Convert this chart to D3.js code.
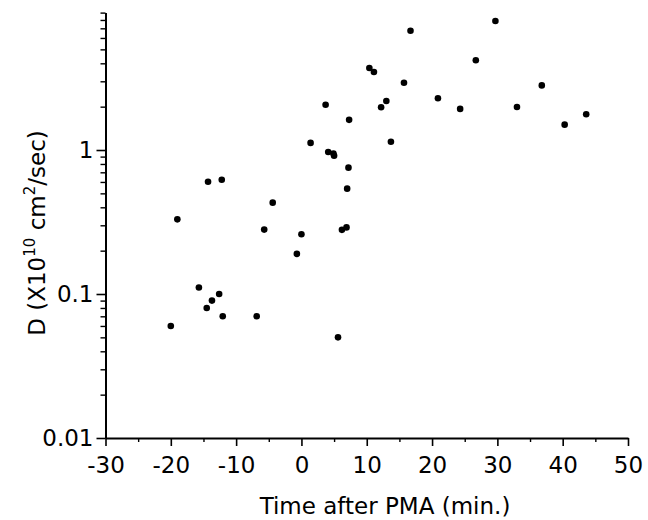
<!DOCTYPE html>
<html>
<head>
<meta charset="utf-8">
<script src="https://cdn.jsdelivr.net/npm/d3@7"></script>
<style>
  html, body { margin: 0; padding: 0; background: #fff; }
  svg { display: block; }
  text { font-family: "DejaVu Sans", "Liberation Sans", sans-serif; fill: #000; }
</style>
</head>
<body>
<svg id="chart" width="648" height="520"></svg>
<script>
// ---- data ----
const timeMin = [-20, -19, -15.7, -14.5, -14.3, -13.7, -12.6, -12.2, -12.05, -6.85,
                 -5.7, -4.4, -0.7, 0.0, 1.4, 3.7, 4.1, 4.9, 5.0, 5.6,
                 6.2, 6.9, 7.0, 7.2, 7.3, 10.4, 11.1, 12.2, 13.0, 13.7,
                 15.7, 16.7, 20.9, 24.3, 26.7, 29.7, 33.0, 36.8, 40.3, 43.6];
const diffD   = [0.060, 0.330, 0.111, 0.080, 0.602, 0.090, 0.100, 0.622, 0.070, 0.070,
                 0.280, 0.431, 0.190, 0.260, 1.12, 2.06, 0.968, 0.946, 0.913, 0.050,
                 0.279, 0.290, 0.539, 0.754, 1.62, 3.71, 3.48, 1.98, 2.19, 1.14,
                 2.93, 6.74, 2.29, 1.93, 4.20, 7.87, 1.99, 2.81, 1.50, 1.77];
const xMajorTicks = [-30, -20, -10, 0, 10, 20, 30, 40, 50];
const xMinorTicks = [-25, -15, -5, 5, 15, 25, 35, 45];
const yMajorTicks = [0.01, 0.1, 1];
const yMajorLabels = ["0.01", "0.1", "1"];
const yMinorMultipliers = [2, 3, 4, 5, 6, 7, 8, 9];
const xDomain = [-30, 50];
const yDomain = [0.01, 9];
const xTitle = "Time after PMA (min.)";

// ---- scales ----
const svg = d3.select("#chart");
const x = d3.scaleLinear().domain(xDomain).range([105.5, 628]);
const y = d3.scaleLog().domain(yDomain).range([438, 12.6]);

const yMinorTicks = [];
yMajorTicks.forEach(d => yMinorMultipliers.forEach(m => {
  const v = d * m;
  if (v <= yDomain[1] + 1e-9) yMinorTicks.push(v);
}));

// ---- axes ----
const x0 = x(xDomain[0]);
const yBottom = y(yDomain[0]);

// x-axis major (labelled)
const xAxis = d3.axisBottom(x).tickValues(xMajorTicks).tickSize(8).tickSizeOuter(0)
  .tickFormat(d3.format("d"));
const gx = svg.append("g").attr("transform", `translate(0,${yBottom})`).call(xAxis);
gx.select(".domain").attr("stroke-width", 2);
gx.selectAll(".tick line").attr("stroke-width", 1.6);
gx.selectAll(".tick text").attr("font-size", 23).attr("dy", "1.05em")
  .style("font-family", '"DejaVu Sans", sans-serif').text(d => d < 0 ? "-" + Math.abs(d) : d);

// x-axis minor
const xAxisMinor = d3.axisBottom(x).tickValues(xMinorTicks).tickSize(4).tickFormat("");
const gxm = svg.append("g").attr("transform", `translate(0,${yBottom})`).call(xAxisMinor);
gxm.select(".domain").remove();
gxm.selectAll(".tick line").attr("stroke-width", 1.4);

// y-axis major
const yAxis = d3.axisLeft(y).tickValues(yMajorTicks).tickSize(9).tickSizeOuter(0)
  .tickFormat((d, i) => yMajorLabels[i]);
const gy = svg.append("g").attr("transform", `translate(${x0},0)`).call(yAxis);
gy.select(".domain").attr("stroke-width", 2);
gy.selectAll(".tick line").attr("stroke-width", 1.6);
gy.selectAll(".tick text").attr("font-size", 23).attr("x", -12);

// y-axis minor
const yAxisMinor = d3.axisLeft(y).tickValues(yMinorTicks).tickSize(5).tickFormat("");
const gym = svg.append("g").attr("transform", `translate(${x0},0)`).call(yAxisMinor);
gym.select(".domain").remove();
gym.selectAll(".tick line").attr("stroke-width", 1.4);

// ---- points ----
svg.append("g").selectAll("circle")
  .data(timeMin.map((t, i) => ({t, d: diffD[i]})))
  .join("circle")
  .attr("cx", p => x(p.t))
  .attr("cy", p => y(p.d))
  .attr("r", 3.3)
  .attr("fill", "#000");

// ---- axis titles ----
svg.append("text")
  .attr("x", 385).attr("y", 514)
  .attr("text-anchor", "middle")
  .attr("font-size", 23)
  .text(xTitle);

const yl = svg.append("text")
  .attr("transform", "translate(45,233) rotate(-90)")
  .attr("text-anchor", "middle")
  .attr("font-size", 23);
yl.append("tspan").text("D (X10");
yl.append("tspan").attr("dy", -10).attr("font-size", 15).text("10");
yl.append("tspan").attr("dy", 10).text(" cm");
yl.append("tspan").attr("dy", -10).attr("font-size", 15).text("2");
yl.append("tspan").attr("dy", 10).text("/sec)");
</script>
</body>
</html>
